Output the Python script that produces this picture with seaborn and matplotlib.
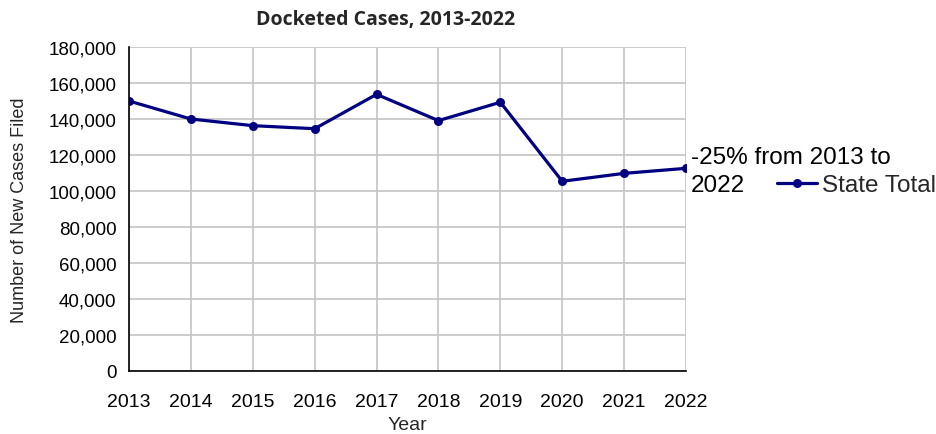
import matplotlib
matplotlib.use("Agg")
import matplotlib.pyplot as plt
import seaborn as sns
import pandas as pd

years = [2013, 2014, 2015, 2016, 2017, 2018, 2019, 2020, 2021, 2022]
cases = [150000, 140000, 136300, 134600, 153700, 139100, 149300, 105400, 109800, 112600]
series_name = "State Total"
note_lines = ["-25% from 2013 to", "2022"]

df = pd.DataFrame({"Year": years, "Cases": cases, "Series": series_name})

sns.set_style("white")
plt.rcParams['font.family'] = ['Liberation Sans', 'DejaVu Sans']

fig = plt.figure(figsize=(9.37, 4.35), dpi=100)
ax = fig.add_axes([129 / 937, 63 / 435, 557 / 937, 324 / 435])

navy = "#000080"
sns.lineplot(data=df, x="Year", y="Cases", hue="Series", palette=[navy],
             marker="o", markersize=6.5, markeredgewidth=0, linewidth=2.3,
             ax=ax, legend=True)

ax.set_xlim(2013, 2022)
ax.set_ylim(0, 180000)
ax.set_xticks(years)
ax.set_yticks(range(0, 180001, 20000))
ax.set_yticklabels([f"{v:,}" for v in range(0, 180001, 20000)])
ax.grid(True, color="#c8c8c8", linewidth=1.3)
ax.set_axisbelow(True)
for s in ["top", "right"]:
    ax.spines[s].set_visible(False)
for s in ["left", "bottom"]:
    ax.spines[s].set_color("black")
    ax.spines[s].set_linewidth(1.2)
ax.tick_params(axis="y", direction="out", length=5, width=1.2, color="black",
               labelsize=13.5, labelcolor="black", pad=4)
ax.tick_params(axis="x", direction="out", length=5, width=1.2, color="black",
               labelsize=14, labelcolor="black", pad=11)
ax.set_xlabel("Year", fontsize=14, labelpad=4)
ax.set_ylabel("Number of New Cases Filed", fontsize=13, labelpad=15)

handles, labels = ax.get_legend_handles_labels()
ax.legend(handles, labels, loc="center left", bbox_to_anchor=(777 / 937, 1 - 186 / 435),
          bbox_transform=fig.transFigure, frameon=False, fontsize=17.5,
          handlelength=1.65, handletextpad=0.2, borderpad=0, borderaxespad=0)

# annotation split in two lines so its box does not cover the legend
fig.text(691 / 937, 1 - 158 / 435, note_lines[0], fontsize=17.5, va="center",
         ha="left", color="black")
fig.text(691 / 937, 1 - 186 / 435, note_lines[1], fontsize=17.5, va="center",
         ha="left", color="black")
fig.text(386 / 937, 1 - 20 / 435, "Docketed Cases, 2013-2022", fontsize=14,
         fontweight="bold", family=["Open Sans", "DejaVu Sans"], ha="center", va="center")

fig.savefig("out.png", dpi=100)
